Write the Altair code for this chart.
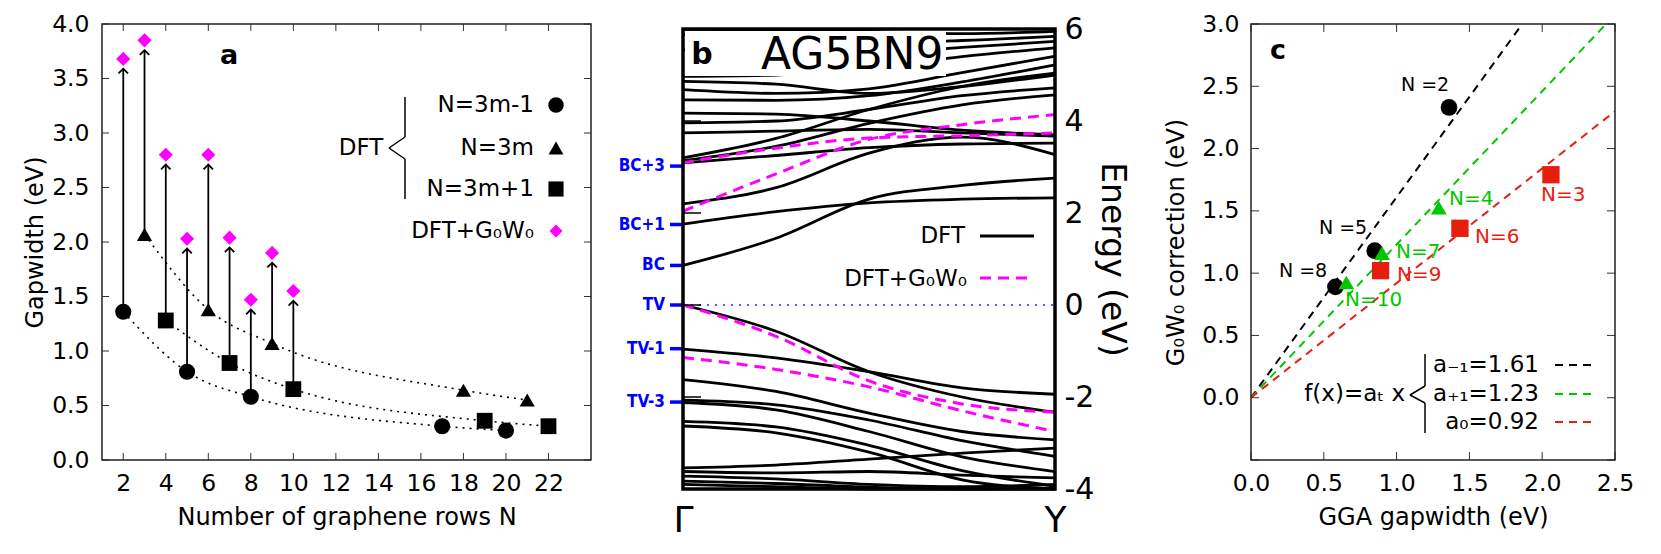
import altair as alt
import pandas as pd

FONT = "DejaVu Sans"
ONE = pd.DataFrame({"o": [0]})

# ---------------- panel a data ----------------
n_3m_minus1 = [2, 5, 8, 17, 20]
gap_3m_minus1 = [1.36, 0.81, 0.58, 0.31, 0.27]
n_3m = [3, 6, 9, 18, 21]
gap_3m = [2.07, 1.38, 1.07, 0.64, 0.55]
n_3m_plus1 = [4, 7, 10, 19, 22]
gap_3m_plus1 = [1.28, 0.89, 0.65, 0.36, 0.31]
n_gw = [2, 3, 4, 5, 6, 7, 8, 9, 10]
gap_gw = [3.68, 3.85, 2.80, 2.03, 2.80, 2.04, 1.47, 1.90, 1.55]
a_xticks = [2, 4, 6, 8, 10, 12, 14, 16, 18, 20, 22]
a_yticks = [0.0, 0.5, 1.0, 1.5, 2.0, 2.5, 3.0, 3.5, 4.0]

# ---------------- panel b data ----------------
k_points = [0.0, 0.25, 0.5, 0.75, 1.0]
dft_bands = [
    [0.86, 1.45, 2.30, 2.60, 2.76],
    [1.76, 2.03, 2.22, 2.30, 2.33],
    [2.20, 2.55, 3.30, 3.65, 3.27],
    [3.09, 3.25, 3.42, 3.50, 3.52],
    [3.14, 3.45, 3.95, 4.35, 4.57],
    [3.20, 3.62, 4.25, 4.75, 5.04],
    [3.74, 3.78, 3.82, 3.74, 3.67],
    [3.96, 4.00, 4.25, 4.55, 4.72],
    [4.17, 4.15, 4.00, 3.80, 3.70],
    [4.46, 4.45, 4.55, 4.85, 5.22],
    [4.68, 4.60, 4.70, 5.05, 5.41],
    [4.86, 4.80, 4.60, 4.75, 5.00],
    [4.97, 5.00, 5.15, 5.40, 5.59],
    [5.55, 5.50, 5.45, 5.60, 5.73],
    [5.88, 5.85, 5.70, 5.75, 5.84],
    [5.99, 5.98, 5.95, 5.90, 5.95],
    [0.00, -0.57, -1.45, -2.00, -2.33],
    [-0.96, -1.15, -1.45, -1.80, -1.94],
    [-1.62, -1.88, -2.35, -2.75, -2.93],
    [-2.07, -2.17, -2.50, -2.95, -3.29],
    [-2.12, -2.28, -2.75, -3.30, -3.62],
    [-2.53, -2.65, -3.05, -3.60, -3.94],
    [-2.63, -2.78, -3.20, -3.80, -4.10],
    [-3.54, -3.48, -3.35, -3.22, -3.11],
    [-3.62, -3.65, -3.62, -3.70, -3.76],
    [-3.72, -3.78, -3.90, -3.95, -3.90],
    [-3.83, -3.88, -3.96, -4.00, -4.00],
    [-3.90, -3.95, -4.00, -4.00, -3.98],
]
gw_bands = [
    [2.04, 2.85, 3.60, 3.92, 4.14],
    [3.09, 3.41, 3.63, 3.68, 3.74],
    [0.00, -0.68, -1.65, -2.15, -2.33],
    [-1.14, -1.40, -1.78, -2.30, -2.75],
]
b_yticks = [-4, -2, 0, 2, 4, 6]
level_names = ["BC+3", "BC+1", "BC", "TV", "TV-1", "TV-3"]
level_energy = [3.02, 1.75, 0.86, 0.0, -0.95, -2.11]

# ---------------- panel c data ----------------
c_gga_m1 = [1.36, 0.85, 0.58]
c_corr_m1 = [2.33, 1.18, 0.89]
c_gga_p1 = [1.29, 0.90, 0.655]
c_corr_p1 = [1.525, 1.16, 0.925]
c_gga_0 = [2.06, 1.435, 0.89]
c_corr_0 = [1.79, 1.36, 1.02]
slopes = [1.61, 1.23, 0.92]
c_xticks = [0.0, 0.5, 1.0, 1.5, 2.0, 2.5]
c_yticks = [0.0, 0.5, 1.0, 1.5, 2.0, 2.5, 3.0]
c_ytick_marks = [-0.5, 0.0, 0.5, 1.0, 1.5, 2.0, 2.5, 3.0]

BLACK = "#000000"
MAGENTA = "#ff00ff"
GREEN = "#00c800"
RED = "#e51e10"
BLUE = "#0000ff"

TICK_FS = 23.5
TITLE_FS = 24


def txt(text, x, y, size, align="center", color=BLACK, weight="normal", font=FONT):
    return alt.Chart(ONE).mark_text(
        text=text, fontSize=size, align=align, baseline="middle",
        color=color, fontWeight=weight, font=font
    ).encode(x=alt.value(x), y=alt.value(y))


def seg(x1, y1, x2, y2, color=BLACK, width=1.5, dash=None, opacity=1):
    kw = dict(color=color, strokeWidth=width, opacity=opacity)
    if dash:
        kw["strokeDash"] = dash
    return alt.Chart(ONE).mark_rule(**kw).encode(
        x=alt.value(x1), y=alt.value(y1), x2=alt.value(x2), y2=alt.value(y2))


def sym(shape, x, y, size, color):
    return alt.Chart(ONE).mark_point(
        shape=shape, filled=True, size=size, color=color, opacity=1
    ).encode(x=alt.value(x), y=alt.value(y))


def frame(w, h, width=1.5, color="#222222", y0=0):
    return alt.Chart(ONE).mark_rect(fillOpacity=0, stroke=color, strokeWidth=width).encode(
        x=alt.value(0), x2=alt.value(w), y=alt.value(y0), y2=alt.value(h))


def axis(values, title, orient=None, fmt=None, label_pad=10, title_pad=12, lfs=TICK_FS, tfs=TITLE_FS):
    kw = dict(values=values, title=title, ticks=False, domain=False, labelFontSize=lfs,
              titleFontSize=tfs, labelPadding=label_pad, titlePadding=title_pad, labelFlush=False,
              labelOverlap=False, labelColor=BLACK, titleColor=BLACK, titleFontWeight="normal",
              grid=False, labelFont=FONT, titleFont=FONT)
    if orient:
        kw["orient"] = orient
    if fmt:
        kw["format"] = fmt
    return alt.Axis(**kw)


# ======================= PANEL A =======================
WA, HA = 489, 436
ax_a_x = axis(a_xticks, "Number of graphene rows N", label_pad=11, title_pad=11)
ax_a_y = axis(a_yticks, "Gapwidth (eV)", fmt=".1f", label_pad=13, title_pad=4)
XA = alt.X("x:Q", scale=alt.Scale(domain=[1, 24], nice=False, zero=False), axis=ax_a_x)
YA = alt.Y("y:Q", scale=alt.Scale(domain=[0, 4], nice=False), axis=ax_a_y)

fam_rows = []
for fam, ns, gs in [("m1", n_3m_minus1, gap_3m_minus1), ("m0", n_3m, gap_3m), ("p1", n_3m_plus1, gap_3m_plus1)]:
    for n, g in zip(ns, gs):
        fam_rows.append({"x": n, "y": g, "fam": fam})
fam_df = pd.DataFrame(fam_rows)

dft_lookup = {r["x"]: r["y"] for r in fam_rows}
arrow_df = pd.DataFrame({"x": n_gw, "y": [dft_lookup[n] for n in n_gw], "gw": gap_gw})
arrow_df["tip"] = arrow_df["gw"] - 0.09

dotted = alt.Chart(fam_df).mark_line(
    color=BLACK, strokeWidth=1.6, strokeDash=[2, 5], interpolate="monotone"
).encode(x=XA, y=YA, detail="fam:N")

arrows = alt.Chart(arrow_df).mark_rule(color=BLACK, strokeWidth=1.8).encode(
    x=XA, y=YA, y2=alt.Y2("tip:Q"))
heads = alt.Chart(arrow_df).mark_point(
    shape="M-1,1L0,0L1,1", filled=False, size=90, strokeWidth=1.8, color=BLACK, opacity=1
).encode(x=XA, y=alt.Y("tip:Q", scale=alt.Scale(domain=[0, 4], nice=False), axis=ax_a_y))

df_m1 = pd.DataFrame({"x": n_3m_minus1, "y": gap_3m_minus1})
df_m0 = pd.DataFrame({"x": n_3m, "y": gap_3m})
df_p1 = pd.DataFrame({"x": n_3m_plus1, "y": gap_3m_plus1})
df_gw = pd.DataFrame({"x": n_gw, "y": gap_gw})

pts_circle = alt.Chart(df_m1).mark_point(shape="circle", filled=True, size=260, color=BLACK, opacity=1).encode(x=XA, y=YA)
pts_tri = alt.Chart(df_m0).mark_point(shape="triangle-up", filled=True, size=230, color=BLACK, opacity=1).encode(x=XA, y=YA)
pts_sq = alt.Chart(df_p1).mark_point(shape="square", filled=True, size=250, color=BLACK, opacity=1).encode(x=XA, y=YA)
pts_gw = alt.Chart(df_gw).mark_point(shape="diamond", filled=True, size=200, color=MAGENTA, opacity=1).encode(x=XA, y=YA)

xt_df = pd.DataFrame({"x": a_xticks})
yt_df = pd.DataFrame({"y": a_yticks})
a_ticks = [
    alt.Chart(xt_df).mark_rule(color="#333", strokeWidth=1).encode(x=XA, y=alt.value(0), y2=alt.value(7)),
    alt.Chart(xt_df).mark_rule(color="#333", strokeWidth=1).encode(x=XA, y=alt.value(HA), y2=alt.value(HA - 7)),
    alt.Chart(yt_df).mark_rule(color="#333", strokeWidth=1).encode(y=YA, x=alt.value(0), x2=alt.value(7)),
    alt.Chart(yt_df).mark_rule(color="#333", strokeWidth=1).encode(y=YA, x=alt.value(WA), x2=alt.value(WA - 7)),
]

a_legend = [
    txt("N=3m-1", 432, 81, 23, align="right"),
    txt("N=3m", 432, 124, 23, align="right"),
    txt("N=3m+1", 432, 165, 23, align="right"),
    txt("DFT+G₀W₀", 432, 207, 23, align="right"),
    sym("circle", 454, 81, 240, BLACK),
    sym("triangle-up", 454, 124, 220, BLACK),
    sym("square", 454, 165, 230, BLACK),
    sym("diamond", 454, 207, 170, MAGENTA),
    txt("DFT", 259, 124, 23),
    seg(303, 73, 303, 113), seg(303, 113, 287, 124), seg(287, 124, 303, 135), seg(303, 135, 303, 175),
    txt("a", 127, 32, 27, weight="bold"),
]

panel_a = alt.layer(
    dotted, arrows, heads, pts_circle, pts_tri, pts_sq, pts_gw, *a_ticks, frame(WA, HA), *a_legend
).properties(width=WA, height=HA)

# ======================= PANEL B =======================
WB, HB = 372, 465
ax_b_x = alt.Axis(values=[0, 1], labelExpr="datum.value == 0 ? 'Γ' : 'Y'", title=None, ticks=False,
                  domain=False, labelFontSize=36, labelPadding=14, labelFlush=False, labelOverlap=False,
                  labelColor=BLACK, grid=False, labelFont=FONT)
ax_b_y = alt.Axis(values=b_yticks, labelExpr="datum.value", orient="right", title="Energy (eV)",
                  ticks=False, domain=False, labelFontSize=30, titleFontSize=33, labelPadding=9,
                  titlePadding=1, labelFlush=False, labelOverlap=False, labelColor=BLACK, titleColor=BLACK,
                  titleFontWeight="normal", grid=False, labelFont=FONT, titleFont=FONT)
XB = alt.X("k:Q", scale=alt.Scale(domain=[0, 1], nice=False, zero=False), axis=ax_b_x)
YB = alt.Y("E:Q", scale=alt.Scale(domain=[-4, 6], range=[465, 5], nice=False, zero=False, clamp=True), axis=ax_b_y)

band_rows = []
for i, band in enumerate(dft_bands):
    for k, e in zip(k_points, band):
        band_rows.append({"k": k, "E": e, "band": f"d{i}"})
dft_df = pd.DataFrame(band_rows)
gw_rows = []
for i, band in enumerate(gw_bands):
    for k, e in zip(k_points, band):
        gw_rows.append({"k": k, "E": e, "band": f"g{i}"})
gw_df = pd.DataFrame(gw_rows)

dft_lines = alt.Chart(dft_df).mark_line(color=BLACK, strokeWidth=2.8, interpolate="monotone").encode(
    x=XB, y=YB, detail="band:N")
gw_lines = alt.Chart(gw_df).mark_line(color=MAGENTA, strokeWidth=3, strokeDash=[11, 7], interpolate="monotone").encode(
    x=XB, y=YB, detail="band:N")

tv_line = alt.Chart(pd.DataFrame({"E": [0.0]})).mark_rule(color="#2222ff", strokeWidth=1.5, strokeDash=[2, 6]).encode(
    y=YB, x=alt.value(0), x2=alt.value(WB))

lvl_df = pd.DataFrame({"E": level_energy, "name": level_names})
lvl_ticks = alt.Chart(lvl_df).mark_rule(color=BLUE, strokeWidth=3.5).encode(
    y=YB, x=alt.value(-13), x2=alt.value(0))
lvl_text = alt.Chart(lvl_df).mark_text(
    color=BLUE, fontSize=17, fontWeight="bold", align="right", baseline="middle",
    font="Liberation Sans Narrow, DejaVu Sans Condensed, DejaVu Sans"
).encode(y=YB, x=alt.value(-18), text="name:N")

bt_df = pd.DataFrame({"E": b_yticks})
b_inner_ticks = alt.Chart(bt_df).mark_rule(color=BLACK, strokeWidth=1.5).encode(
    y=YB, x=alt.value(0), x2=alt.value(18))

label_box = alt.Chart(ONE).mark_rect(fill="white", stroke="white", strokeWidth=0).encode(
    x=alt.value(2), x2=alt.value(263), y=alt.value(7), y2=alt.value(52))

b_decor = [
    label_box,
    txt("b", 19, 31, 30, weight="bold"),
    txt("AG5BN9", 78, 32, 44, align="left"),
    txt("DFT", 282, 212, 23, align="right"),
    seg(297, 212, 351, 212, width=3),
    txt("DFT+G₀W₀", 284, 255, 23, align="right"),
    seg(297, 254, 351, 254, color=MAGENTA, width=3, dash=[11, 7]),
    # invisible spacer that fixes the right extent of this panel
    seg(WB + 83, 0, WB + 83, 1, color="white", width=1, opacity=0),
]

panel_b = alt.layer(
    dft_lines, gw_lines, tv_line, b_inner_ticks, lvl_ticks, lvl_text,
    frame(WB, 465, width=3.5, color=BLACK, y0=5), *b_decor
).properties(width=WB, height=HB)

# ======================= PANEL C =======================
WC, HC = 364, 436
ax_c_x = axis(c_xticks, "GGA gapwidth (eV)", fmt=".1f", label_pad=11, title_pad=11)
ax_c_y = axis(c_yticks, "G₀W₀ correction (eV)", fmt=".1f", label_pad=12, title_pad=13)
XC = alt.X("x:Q", scale=alt.Scale(domain=[0, 2.5], nice=False, zero=False), axis=ax_c_x)
YC = alt.Y("y:Q", scale=alt.Scale(domain=[-0.5, 3.0], nice=False, zero=False), axis=ax_c_y)

fit_rows = []
for name, a in zip(["m1", "p1", "m0"], slopes):
    for xv in [0.0, 2.5]:
        fit_rows.append({"x": xv, "y": a * xv, "fit": name})
fit_df = pd.DataFrame(fit_rows)
fit_lines = alt.Chart(fit_df).mark_line(strokeWidth=2, strokeDash=[8, 6], clip=True).encode(
    x=XC, y=YC, detail="fit:N",
    color=alt.Color("fit:N", scale=alt.Scale(domain=["m1", "p1", "m0"], range=[BLACK, GREEN, RED]), legend=None))

c_m1 = alt.Chart(pd.DataFrame({"x": c_gga_m1, "y": c_corr_m1})).mark_point(
    shape="circle", filled=True, size=280, color=BLACK, opacity=1).encode(x=XC, y=YC)
c_p1 = alt.Chart(pd.DataFrame({"x": c_gga_p1, "y": c_corr_p1})).mark_point(
    shape="triangle-up", filled=True, size=250, color=GREEN, opacity=1).encode(x=XC, y=YC)
c_0 = alt.Chart(pd.DataFrame({"x": c_gga_0, "y": c_corr_0})).mark_point(
    shape="square", filled=True, size=300, color=RED, opacity=1).encode(x=XC, y=YC)

cxt_df = pd.DataFrame({"x": c_xticks})
cyt_df = pd.DataFrame({"y": c_ytick_marks})
c_ticks = [
    alt.Chart(cxt_df).mark_rule(color="#333", strokeWidth=1).encode(x=XC, y=alt.value(0), y2=alt.value(8)),
    alt.Chart(cxt_df).mark_rule(color="#333", strokeWidth=1).encode(x=XC, y=alt.value(HC), y2=alt.value(HC - 8)),
    alt.Chart(cyt_df).mark_rule(color="#333", strokeWidth=1).encode(y=YC, x=alt.value(0), x2=alt.value(8)),
    alt.Chart(cyt_df).mark_rule(color="#333", strokeWidth=1).encode(y=YC, x=alt.value(WC), x2=alt.value(WC - 8)),
]

c_labels = [
    txt("N =2", 174, 61, 19),
    txt("N =5", 92, 204, 19),
    txt("N =8", 52, 247, 19),
    txt("N=4", 198, 175, 20, align="left", color=GREEN),
    txt("N=7", 145, 228, 20, align="left", color=GREEN),
    txt("N=10", 94, 276, 20, align="left", color=GREEN),
    txt("N=3", 290, 171, 20, align="left", color=RED),
    txt("N=6", 224, 213, 20, align="left", color=RED),
    txt("N=9", 146, 251, 20, align="left", color=RED),
    txt("c", 27, 27, 27, weight="bold"),
    txt("f(x)=aₜ x", 154, 370, 23, align="right"),
    seg(174, 330, 174, 362), seg(174, 362, 159, 371), seg(159, 371, 174, 379), seg(174, 379, 174, 409),
    txt("a₋₁=1.61", 288, 341, 23, align="right"),
    txt("a₊₁=1.23", 288, 370, 23, align="right"),
    txt("a₀=0.92", 288, 398, 23, align="right"),
    seg(304, 341, 340, 341, color=BLACK, width=2, dash=[8, 6]),
    seg(304, 370, 340, 370, color=GREEN, width=2, dash=[8, 6]),
    seg(304, 398, 340, 398, color=RED, width=2, dash=[8, 6]),
]

panel_c = alt.layer(
    fit_lines, c_m1, c_p1, c_0, *c_ticks, frame(WC, HC), *c_labels
).properties(width=WC, height=HC)

chart = alt.hconcat(panel_a, panel_b, panel_c, spacing=26).properties(
    padding={"left": 15, "top": 4, "right": 5, "bottom": 5}
).configure(font=FONT).configure_view(strokeWidth=0)

chart.save("out.html", embed_options={"renderer": "svg", "actions": False})
